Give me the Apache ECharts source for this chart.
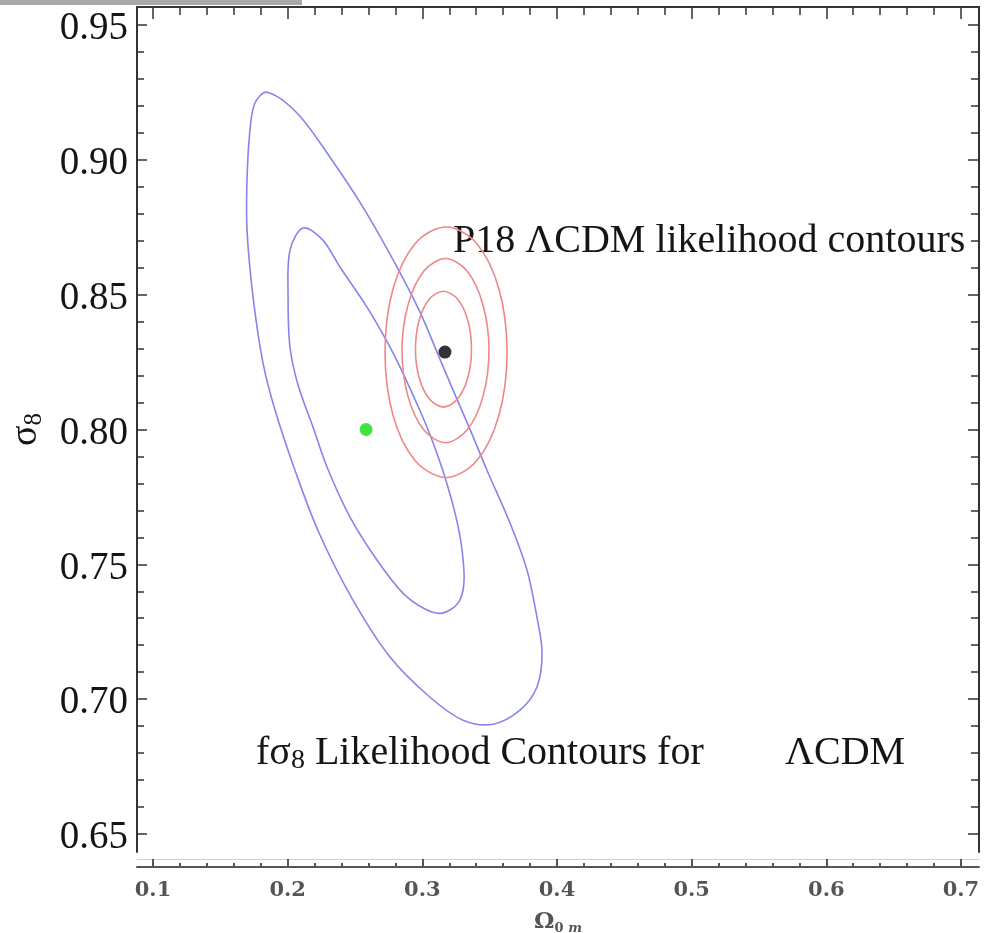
<!DOCTYPE html>
<html><head><meta charset="utf-8">
<script src="https://cdn.jsdelivr.net/npm/echarts@6/dist/echarts.min.js"></script>
<style>html,body{margin:0;padding:0;background:#fff}#c{width:986px;height:933px}</style>
</head><body><div id="c"></div>
<script>
// ---- tick values ----
const xMajorTicks = [0.1, 0.2, 0.3, 0.4, 0.5, 0.6, 0.7];
const xMinorTicks = [0.10,0.12,0.14,0.16,0.18,0.20,0.22,0.24,0.26,0.28,0.30,0.32,0.34,0.36,0.38,0.40,
                     0.42,0.44,0.46,0.48,0.50,0.52,0.54,0.56,0.58,0.60,0.62,0.64,0.66,0.68,0.70];
const yMajorTicks = [0.65, 0.70, 0.75, 0.80, 0.85, 0.90, 0.95];
const yMinorTicks = [0.65,0.66,0.67,0.68,0.69,0.70,0.71,0.72,0.73,0.74,0.75,0.76,0.77,0.78,0.79,0.80,
                     0.81,0.82,0.83,0.84,0.85,0.86,0.87,0.88,0.89,0.90,0.91,0.92,0.93,0.94,0.95];

// ---- contours (Omega_0m, sigma_8) ----
const fs8Outer = [[0.1847,0.9251],[0.2069,0.9174],[0.2314,0.9010],[0.2559,0.8825],[0.2804,0.8610],[0.2983,0.8435],
  [0.3109,0.8287],[0.3228,0.8146],[0.3347,0.8009],[0.3480,0.7849],[0.3651,0.7653],[0.3777,0.7479],[0.3851,0.7304],
  [0.3889,0.7171],[0.3851,0.7045],[0.3725,0.6959],[0.3525,0.6907],[0.3302,0.6922],[0.3057,0.7007],[0.2760,0.7156],
  [0.2485,0.7367],[0.2233,0.7616],[0.2054,0.7849],[0.1906,0.8072],[0.1817,0.8246],[0.1743,0.8491],[0.1698,0.8740],
  [0.1698,0.8925],[0.1720,0.9111],[0.1757,0.9211]];
const fs8Inner = [[0.2114,0.8747],[0.2255,0.8706],[0.2389,0.8602],[0.2589,0.8454],[0.2752,0.8313],[0.2856,0.8209],
  [0.2990,0.8061],[0.3072,0.7961],[0.3168,0.7823],[0.3250,0.7675],[0.3295,0.7553],[0.3309,0.7430],[0.3265,0.7356],
  [0.3146,0.7319],[0.3020,0.7334],[0.2856,0.7393],[0.2663,0.7516],[0.2463,0.7675],[0.2292,0.7861],[0.2188,0.8009],
  [0.2077,0.8165],[0.2017,0.8306],[0.2003,0.8491],[0.2017,0.8665]];
const p18Outer = [[0.3176,0.8751],[0.3402,0.8691],[0.3569,0.8521],[0.3629,0.8287],[0.3569,0.8053],[0.3402,0.7883],
  [0.3176,0.7822],[0.2949,0.7883],[0.2782,0.8053],[0.2723,0.8287],[0.2782,0.8521],[0.2949,0.8691]];
const p18Middle = [[0.3172,0.8634],[0.3332,0.8588],[0.3450,0.8463],[0.3495,0.8293],[0.3450,0.8122],[0.3332,0.7998],
  [0.3172,0.7951],[0.3012,0.7998],[0.2894,0.8122],[0.2849,0.8293],[0.2894,0.8463],[0.3012,0.8588]];
const p18Inner = [[0.3157,0.8513],[0.3261,0.8484],[0.3337,0.8406],[0.3365,0.8298],[0.3337,0.8191],[0.3261,0.8113],
  [0.3157,0.8083],[0.3053,0.8113],[0.2977,0.8191],[0.2949,0.8298],[0.2977,0.8406],[0.3053,0.8484]];
const fs8BestFit = [[0.2582, 0.8000]];
const p18BestFit = [[0.3168, 0.8287]];

// ---- axis ranges ----
const X_MIN = 0.0881, X_MAX = 0.7134, Y_MIN = 0.6433, Y_MAX = 0.9567;

const AX = '#333';
const SERIF = 'Liberation Serif';

function contour(data, color) {
  return {
    type: 'custom', data: data, xAxisIndex: 0, yAxisIndex: 0, encode: {x: 0, y: 1},
    silent: true, z: 2,
    renderItem: function (params, api) {
      if (params.dataIndex !== 0) return null;
      const pts = data.map(function (p) { return api.coord(p); });
      return {type: 'polygon', shape: {points: pts, smooth: 0.33},
              style: {fill: 'none', stroke: color, lineWidth: 1.6}};
    }
  };
}

function xAx(o) {
  return Object.assign({
    type: 'value', min: X_MIN, max: X_MAX, splitLine: {show: false},
    axisLine: {show: false}, axisTick: {show: false}, axisLabel: {show: false}
  }, o);
}
function yAx(o) {
  return Object.assign({
    type: 'value', min: Y_MIN, max: Y_MAX, splitLine: {show: false},
    axisLine: {show: false}, axisTick: {show: false}, axisLabel: {show: false}
  }, o);
}

const chart = echarts.init(document.getElementById('c'), null, {renderer: 'canvas'});
chart.setOption({
  animation: false,
  backgroundColor: '#fff',
  grid: {left: 137, right: 7, top: 7, bottom: 81, containLabel: false, outerBoundsMode: 'none'},
  xAxis: [
    xAx({position: 'bottom', offset: 15,
      axisLine: {show: true, onZero: false, lineStyle: {color: '#555', width: 2}},
      axisTick: {show: true, inside: true, length: 8, customValues: xMajorTicks, lineStyle: {color: '#555', width: 2}},
      axisLabel: {show: true, customValues: xMajorTicks, margin: 13, formatter: v => v.toFixed(1),
        fontFamily: 'DejaVu Serif', fontWeight: 'bold', fontSize: 21, color: '#555'},
      name: '{o|Ω}{s|0 }{m|m}', nameLocation: 'middle', nameGap: 42,
      nameTextStyle: {rich: {
        o: {fontFamily: 'DejaVu Serif', fontWeight: 'bold', fontSize: 23, color: '#555', lineHeight: 26},
        s: {fontFamily: 'DejaVu Serif', fontWeight: 'bold', fontSize: 13, color: '#555', lineHeight: 16, verticalAlign: 'bottom'},
        m: {fontFamily: 'DejaVu Serif', fontWeight: 'bold', fontStyle: 'italic', fontSize: 13, color: '#555', lineHeight: 16, verticalAlign: 'bottom'}
      }}
    }),
    xAx({position: 'bottom', offset: 15,
      axisTick: {show: true, inside: true, length: 4, customValues: xMinorTicks, lineStyle: {color: '#555', width: 2}}}),
    xAx({position: 'bottom', offset: 7,
      axisLine: {show: true, onZero: false, lineStyle: {color: '#cfcfcf', width: 1}}}),
    xAx({position: 'top',
      axisLine: {show: true, onZero: false, lineStyle: {color: AX, width: 2}},
      axisTick: {show: true, inside: true, length: 12, customValues: xMajorTicks, lineStyle: {color: AX, width: 1.5}}}),
    xAx({position: 'top',
      axisTick: {show: true, inside: true, length: 8, customValues: xMinorTicks, lineStyle: {color: AX, width: 1.5}}})
  ],
  yAxis: [
    yAx({position: 'left',
      axisLine: {show: true, onZero: false, lineStyle: {color: AX, width: 2}},
      axisTick: {show: true, inside: true, length: 10, customValues: yMajorTicks, lineStyle: {color: AX, width: 1.5}},
      axisLabel: {show: true, customValues: yMajorTicks, margin: 9,
        formatter: v => '{g| }\n{t|' + v.toFixed(2) + '}',
        rich: {
          g: {fontSize: 1, lineHeight: 8},
          t: {fontFamily: SERIF, fontSize: 39, lineHeight: 40, color: '#151515'}
        }},
      name: '{a|σ}{b|8}', nameLocation: 'middle', nameRotate: 90, nameGap: 90,
      nameTextStyle: {rich: {
        a: {fontFamily: SERIF, fontSize: 38, color: '#151515', lineHeight: 42},
        b: {fontFamily: SERIF, fontSize: 25, color: '#151515', lineHeight: 22, verticalAlign: 'bottom'}
      }}
    }),
    yAx({position: 'left',
      axisTick: {show: true, inside: true, length: 7, customValues: yMinorTicks, lineStyle: {color: AX, width: 1.5}}}),
    yAx({position: 'right',
      axisLine: {show: true, onZero: false, lineStyle: {color: AX, width: 2}},
      axisTick: {show: true, inside: true, length: 11, customValues: yMajorTicks, lineStyle: {color: AX, width: 1.5}}}),
    yAx({position: 'right',
      axisTick: {show: true, inside: true, length: 8, customValues: yMinorTicks, lineStyle: {color: AX, width: 1.5}}})
  ],
  series: [
    contour(fs8Outer, '#8686ea'),
    contour(fs8Inner, '#8686ea'),
    contour(p18Outer, '#ef8888'),
    contour(p18Middle, '#ef8888'),
    contour(p18Inner, '#ef8888'),
    {type: 'scatter', data: fs8BestFit, symbolSize: 13, itemStyle: {color: '#10dd10'}, z: 5, silent: true},
    {type: 'scatter', data: p18BestFit, symbolSize: 13, itemStyle: {color: '#000'}, z: 5, silent: true}
  ],
  graphic: [
    {type: 'rect', shape: {x: 0, y: 0, width: 302, height: 5}, style: {fill: '#a8a8a8'}, silent: true},
    {type: 'text', x: 453, y: 241, silent: true,
      style: {text: 'P18 ΛCDM likelihood contours', fontFamily: SERIF, fontSize: 40, fill: '#151515',
        align: 'left', verticalAlign: 'middle', textAlign: 'left', textVerticalAlign: 'middle'}},
    {type: 'text', x: 256, y: 753, silent: true,
      style: {text: '{a|fσ}{b|8}{a| Likelihood Contours for}', fill: '#151515',
        align: 'left', verticalAlign: 'middle', textAlign: 'left', textVerticalAlign: 'middle',
        rich: {a: {fontFamily: SERIF, fontSize: 40, lineHeight: 44, fill: '#151515'},
               b: {fontFamily: SERIF, fontSize: 28, lineHeight: 24, verticalAlign: 'bottom', fill: '#151515'}}}},
    {type: 'text', x: 785, y: 753, silent: true,
      style: {text: 'ΛCDM', fontFamily: SERIF, fontSize: 40, fill: '#151515',
        align: 'left', verticalAlign: 'middle', textAlign: 'left', textVerticalAlign: 'middle'}}
  ]
});
</script>
</body></html>
